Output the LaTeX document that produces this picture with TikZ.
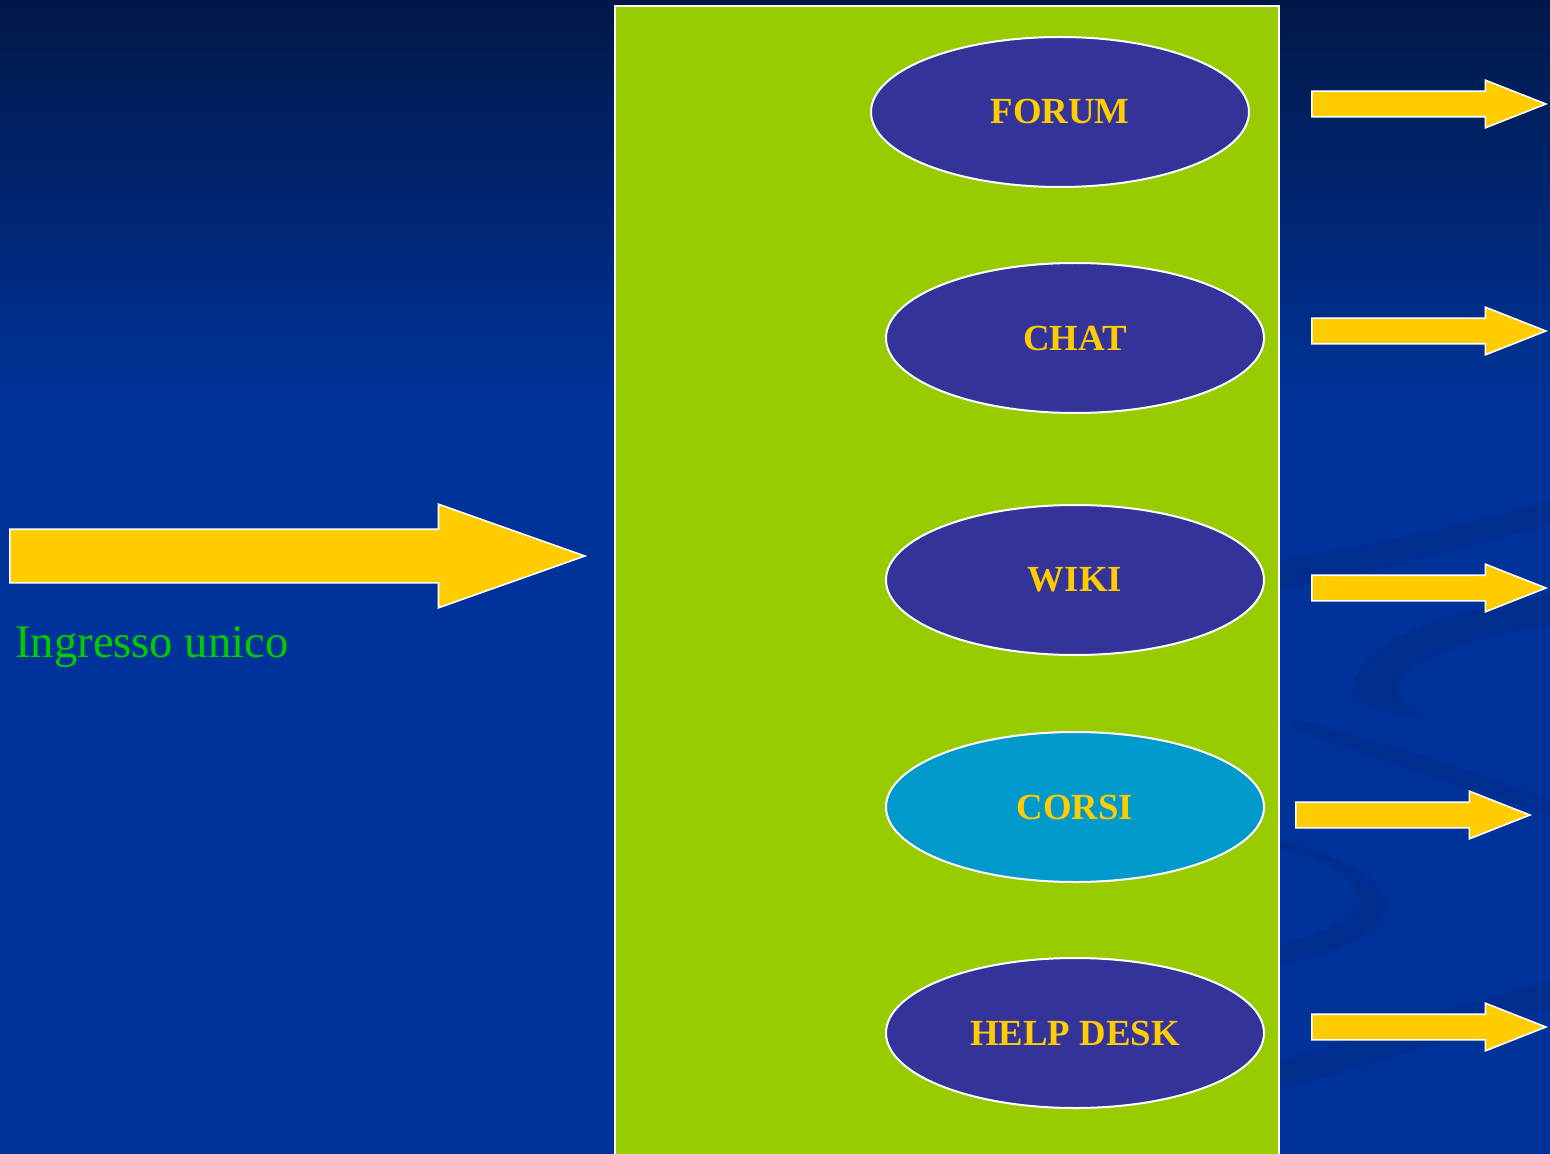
\documentclass[tikz,border=0pt]{standalone}
\usepackage{fontspec}
\setmainfont{Liberation Serif}
\usetikzlibrary{shapes.geometric,shapes.arrows}
\definecolor{navytop}{RGB}{0,24,72}
\definecolor{slideblue}{RGB}{0,51,153}
\definecolor{swirl}{RGB}{0,46,144}
\definecolor{lime}{RGB}{153,204,0}
\definecolor{indaco}{RGB}{51,51,153}
\definecolor{ciano}{RGB}{0,153,204}
\definecolor{oro}{RGB}{255,204,0}
\definecolor{verde}{RGB}{0,204,0}
\tikzstyle{servizio} = [ellipse, draw=white, line width=1pt, fill=indaco, text=oro, font=\fontsize{18.4}{22}\selectfont\bfseries, minimum width=189pt, minimum height=75pt, inner sep=0pt]
\tikzstyle{freccia} = [single arrow, anchor=tail, draw=white, line width=0.8pt, fill=oro, inner xsep=0pt, inner ysep=6pt, single arrow head extend=5.5pt, single arrow tip angle=43, minimum height=117pt]

\begin{document}
\begin{tikzpicture}[x=0.5pt,y=-0.5pt]
	\useasboundingbox (0,0) rectangle (1550,1154);
	\clip (0,0) rectangle (1550,1154);
	\shade[top color=navytop, bottom color=slideblue] (0,0) rectangle (1550,400);
	\fill[slideblue] (0,399) rectangle (1550,1154);
	\fill[swirl] (1280,560) .. controls (1400,540) and (1480,520) .. (1550,500) -- (1550,525) .. controls (1470,545) and (1390,570) .. (1280,590) -- cycle;
	\fill[swirl] (1550,595) .. controls (1420,615) and (1360,645) .. (1352,690) .. controls (1350,705) and (1390,715) .. (1425,718) .. controls (1400,705) and (1395,690) .. (1400,680) .. controls (1420,655) and (1480,635) .. (1550,625) -- cycle;
	\fill[swirl] (1290,718) .. controls (1380,740) and (1470,770) .. (1550,800) -- (1550,815) .. controls (1470,790) and (1380,760) .. (1290,728) -- cycle;
	\fill[swirl] (1280,840) .. controls (1350,860) and (1385,880) .. (1387,905) .. controls (1385,935) and (1330,955) .. (1280,965) -- (1280,945) .. controls (1330,930) and (1362,915) .. (1360,900) .. controls (1355,875) and (1320,858) .. (1280,848) -- cycle;
	\fill[swirl] (1280,1060) .. controls (1370,1035) and (1460,1005) .. (1550,980) -- (1550,1010) .. controls (1460,1035) and (1370,1065) .. (1280,1090) -- cycle;
	\draw[draw=white, line width=1pt, fill=lime] (615,6) rectangle (1279,1170);
	\node[servizio] (forum) at (1060,112) {FORUM};
	\node[servizio] (chat) at (1075,338) {CHAT};
	\node[servizio] (wiki) at (1075,580) {WIKI};
	\node[servizio, fill=ciano] (corsi) at (1075,807) {CORSI};
	\node[servizio] (helpdesk) at (1075,1033) {HELP DESK};
	\node[freccia] (uforum) at (1311,104) {};
	\node[freccia] (uchat) at (1311,331) {};
	\node[freccia] (uwiki) at (1311,588) {};
	\node[freccia] (ucorsi) at (1295,815) {};
	\node[freccia] (uhelp) at (1311,1027) {};
	\node[freccia, minimum height=287.5pt, inner ysep=13pt, single arrow head extend=12.5pt, single arrow tip angle=39] (ingresso) at (9,556) {};
	\node[anchor=base west, text=verde, font=\fontsize{23.3}{28}\selectfont, inner sep=0pt] (etichetta) at (15,657) {Ingresso unico};
\end{tikzpicture}
\end{document}
